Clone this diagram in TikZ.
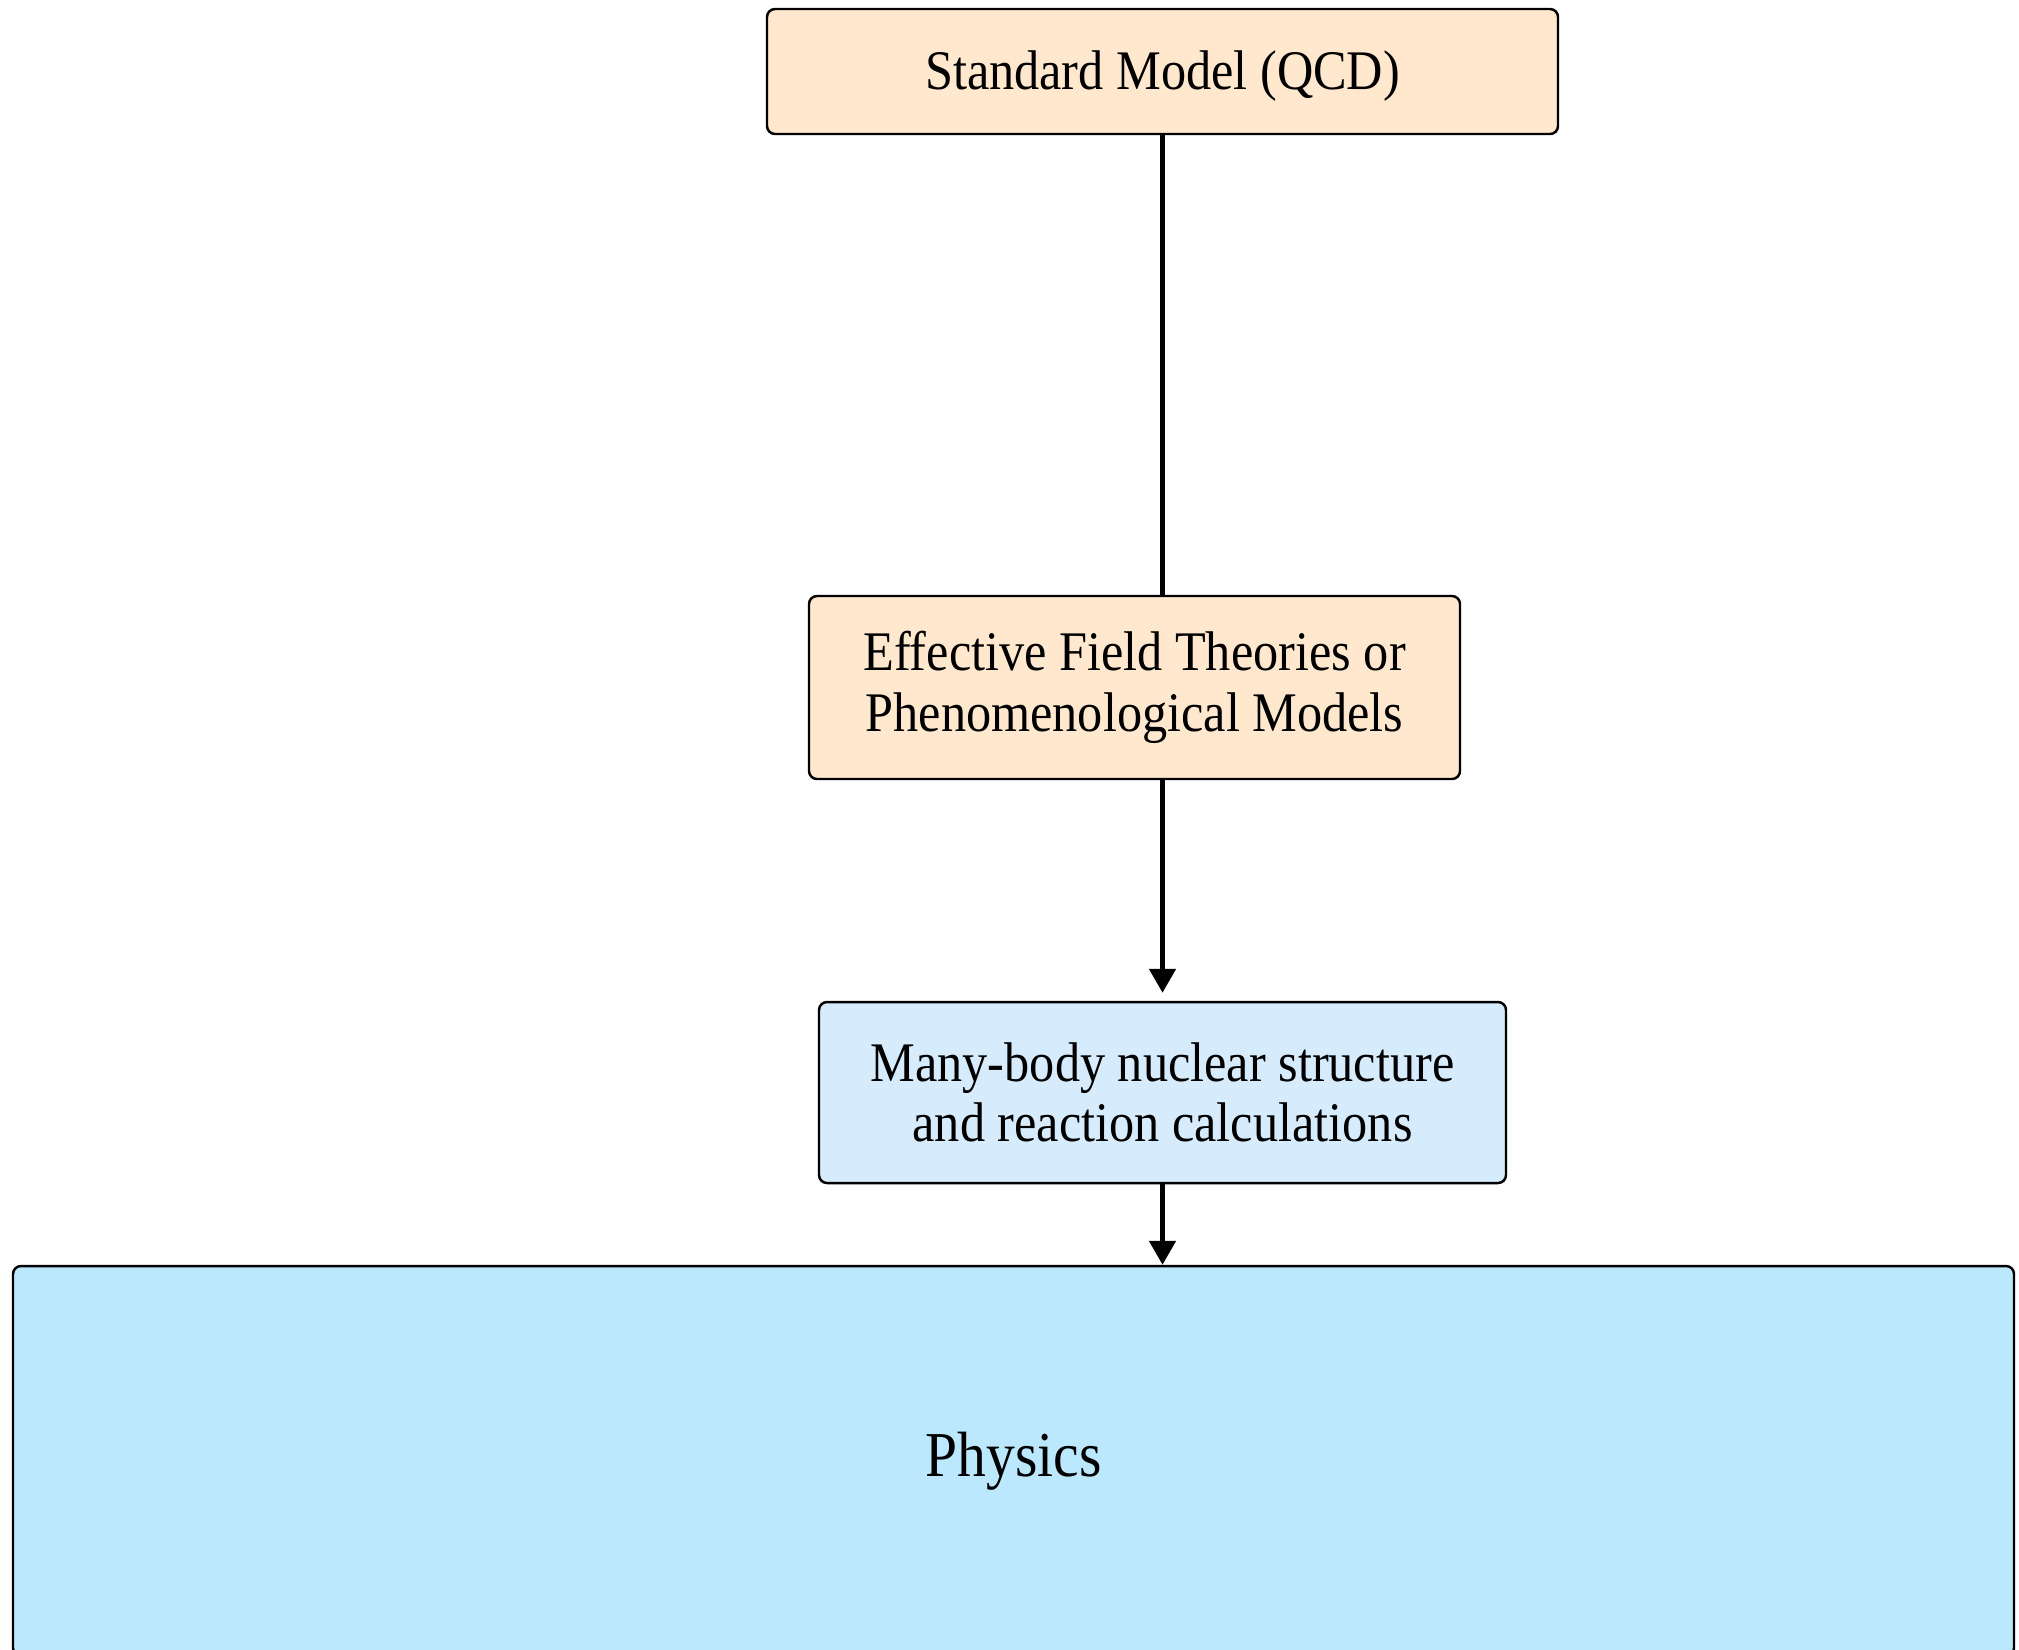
\documentclass[tikz,border=0pt]{standalone}
\usepackage{fontspec}
\setmainfont{Liberation Serif}[FakeStretch=0.9]
\usetikzlibrary{arrows.meta}
\definecolor{peach}{HTML}{FFE8CE}
\definecolor{paleblue}{HTML}{D6ECFC}
\definecolor{skyblue}{HTML}{BBE8FD}
\tikzset{
  box/.style={draw=black, line width=0.7pt, rounded corners=0.8mm, inner sep=0pt,
    align=center, font=\fontsize{15.9}{17.2}\selectfont},
  link/.style={line width=1.4pt},
  arrowlink/.style={link, -{Triangle[width=2.6mm,length=2.4mm]}},
}
\begin{document}
\begin{tikzpicture}[x=0.1mm,y=-0.1mm]
\useasboundingbox (0,0) rectangle (2019,1649);
\clip (0,0) rectangle (2019,1649);

% theory chain
\node[box, fill=peach, minimum width=79.1mm, minimum height=12.5mm,
  text height=3.6mm, text depth=0pt] (sm) at (1162.5,71.5)
  {Standard Model (QCD)};
\node[box, fill=peach, minimum width=65.1mm, minimum height=18.3mm] (eft) at (1134.5,687.5)
  {Effective Field Theories or\\Phenomenological Models};
\node[box, fill=paleblue, minimum width=68.7mm, minimum height=18.1mm] (mb) at (1162.5,1092.5)
  {Many-body nuclear structure\\and reaction calculations};
\node[box, fill=skyblue, minimum width=200.1mm, minimum height=39mm,
  font=\fontsize{18.2}{20}\selectfont] (phys) at (1013.5,1461) {Physics};

% connectors
\draw[link] (sm.south) -- (sm.south |- eft.north);
\draw[arrowlink] (sm.south |- eft.south) -- ([yshift=0.8mm]mb.north);
\draw[arrowlink] (mb.south) -- (mb.south |- phys.north);
\end{tikzpicture}
\end{document}
